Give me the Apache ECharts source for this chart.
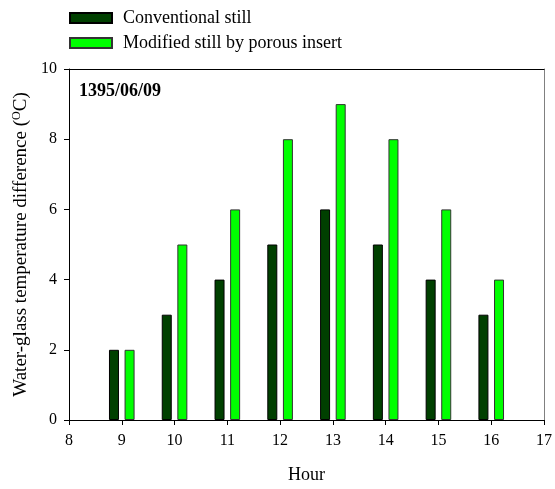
<!DOCTYPE html>
<html>
<head>
<meta charset="utf-8">
<script src="https://cdn.jsdelivr.net/npm/echarts@6/dist/echarts.min.js"></script>
<style>html,body{margin:0;padding:0;background:#fff;overflow:hidden}#c{width:100vw;height:100vh}</style>
</head>
<body>
<div id="c"></div>
<script>
const hours = [9, 10, 11, 12, 13, 14, 15, 16];
const conventional = [2, 3, 4, 5, 6, 5, 4, 3];
const modified = [2, 5, 6, 8, 9, 8, 6, 4];
const seriesNames = ['Conventional still', 'Modified still by porous insert'];
const dateLabel = '1395/06/09';

const FONT = '"Liberation Serif", "DejaVu Serif", serif';
const chart = echarts.init(document.getElementById('c'), null, {renderer: 'canvas'});
chart.setOption({
  animation: false,
  backgroundColor: '#fff',
  textStyle: {fontFamily: FONT},
  legend: {
    orient: 'vertical', left: 69, top: 9, padding: 0, itemWidth: 42, itemHeight: 10, itemGap: 7,
    icon: 'rect',
    textStyle: {fontFamily: FONT, fontSize: 18, color: '#000', padding: [0, 0, 0, 6]},
    data: seriesNames
  },
  grid: {left: 69, right: 8, top: 69, bottom: 64, containLabel: false},
  xAxis: [{
    type: 'value', min: 8, max: 17, interval: 1,
    name: 'Hour', nameLocation: 'middle', nameGap: 46,
    nameTextStyle: {fontFamily: FONT, fontSize: 18, color: '#000'},
    axisLine: {show: true, lineStyle: {color: '#000', width: 1}},
    axisTick: {show: true, inside: false, length: 5, lineStyle: {color: '#000'}},
    axisLabel: {fontFamily: FONT, fontSize: 16, color: '#000', margin: 13},
    splitLine: {show: false}
  }, {
    type: 'value', position: 'top', min: 8, max: 17,
    axisLine: {show: true, onZero: false, lineStyle: {color: '#000', width: 1}},
    axisTick: {show: false}, axisLabel: {show: false}, splitLine: {show: false}
  }],
  yAxis: [{
    type: 'value', min: 0, max: 10, interval: 2,
    name: 'Water-glass temperature difference ({sup|O}C)',
    nameLocation: 'middle', nameGap: 37, nameRotate: 90,
    nameTextStyle: {fontFamily: FONT, fontSize: 19, color: '#000',
      rich: {sup: {fontFamily: FONT, fontSize: 12, color: '#000', verticalAlign: 'top', padding: [0, 0, 7, 0]}}},
    axisLine: {show: true, lineStyle: {color: '#000', width: 1}},
    axisTick: {show: true, inside: false, length: 5, lineStyle: {color: '#000'}},
    axisLabel: {fontFamily: FONT, fontSize: 16, color: '#000', margin: 12},
    splitLine: {show: false}
  }, {
    type: 'value', position: 'right', min: 0, max: 10,
    axisLine: {show: true, onZero: false, lineStyle: {color: '#808080', width: 1}},
    axisTick: {show: false}, axisLabel: {show: false}, splitLine: {show: false}
  }],
  graphic: [{
    type: 'text', left: 79, top: 82,
    style: {text: dateLabel, font: 'bold 18px ' + FONT, fill: '#000'}
  }],
  series: [{
    name: seriesNames[0], type: 'bar', xAxisIndex: 0, yAxisIndex: 0,
    barWidth: 10, barGap: '56%',
    itemStyle: {color: '#004000', borderColor: '#000', borderWidth: 1},
    data: hours.map((h, i) => [h, conventional[i]])
  }, {
    name: seriesNames[1], type: 'bar', xAxisIndex: 0, yAxisIndex: 0,
    barWidth: 10, barGap: '56%',
    itemStyle: {color: '#00FF00', borderColor: '#333', borderWidth: 1},
    data: hours.map((h, i) => [h, modified[i]])
  }]
});
</script>
</body>
</html>
